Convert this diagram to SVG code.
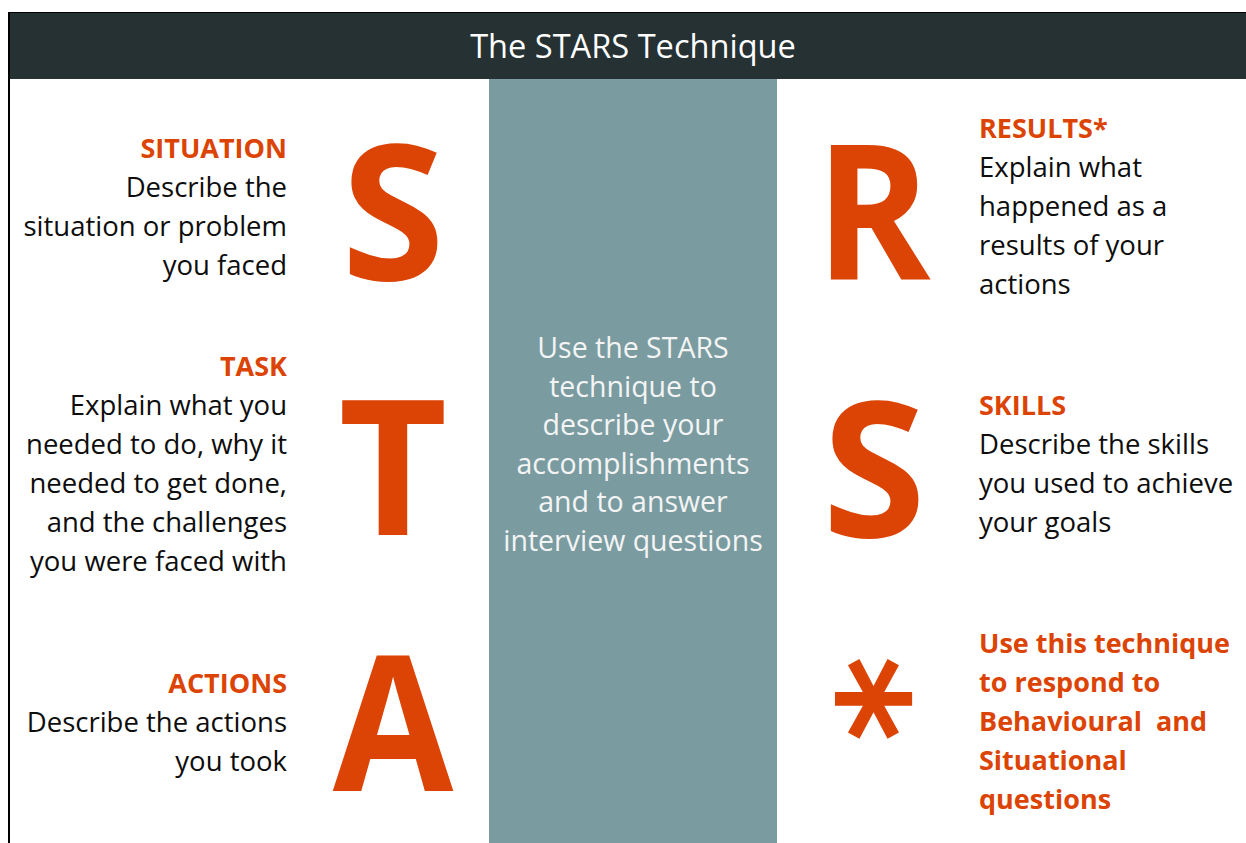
<svg xmlns="http://www.w3.org/2000/svg" width="1246" height="843" viewBox="0 0 1246 843">
  <style>
    .body { font-family: "Open Sans", Lato, sans-serif; font-size: 27.5px; fill: #0d0d0d; }
    .head { font-family: "Open Sans", Lato, sans-serif; font-size: 27px; font-weight: 700; fill: #dc4405; }
    .big { font-family: "Open Sans", sans-serif; font-size: 188px; font-weight: 700; fill: #dc4405; text-anchor: middle; }
    .mid { font-family: "Open Sans", Lato, sans-serif; font-size: 28.5px; fill: #f4f4f4; text-anchor: middle; }
    .r { text-anchor: end; }
  </style>

  <!-- page background -->
  <rect x="0" y="0" width="1246" height="843" fill="#ffffff"/>

  <!-- title bar -->
  <g id="title">
    <rect x="9" y="12" width="1237" height="67" fill="#253133"/>
    <line x1="8" y1="12.5" x2="1246" y2="12.5" stroke="#000" stroke-width="1"/>
    <text x="633" y="58" text-anchor="middle" font-family="'Open Sans', sans-serif" font-size="32.6" fill="#ffffff">The STARS Technique</text>
  </g>

  <!-- left frame edge -->
  <line x1="9" y1="12" x2="9" y2="843" stroke="#000" stroke-width="2"/>

  <!-- centre column -->
  <g id="centre">
    <rect x="489" y="79" width="288" height="764" fill="#7a9ca1"/>
    <text class="mid" x="633" y="358">Use the STARS</text>
    <text class="mid" x="633" y="397">technique to</text>
    <text class="mid" x="633" y="435">describe your</text>
    <text class="mid" x="633" y="474">accomplishments</text>
    <text class="mid" x="633" y="512">and to answer</text>
    <text class="mid" x="633" y="551">interview questions</text>
  </g>

  <!-- S : situation -->
  <g id="situation">
    <text class="head r" x="287" y="158">SITUATION</text>
    <text class="body r" x="287" y="197">Describe the</text>
    <text class="body r" x="287" y="236">situation or problem</text>
    <text class="body r" x="287" y="275">you faced</text>
    <text class="big" x="393" y="280">S</text>
  </g>

  <!-- T : task -->
  <g id="task">
    <text class="head r" x="287" y="376">TASK</text>
    <text class="body r" x="287" y="415">Explain what you</text>
    <text class="body r" x="287" y="454">needed to do, why it</text>
    <text class="body r" x="287" y="493">needed to get done,</text>
    <text class="body r" x="287" y="532">and the challenges</text>
    <text class="body r" x="287" y="571">you were faced with</text>
    <text class="big" x="393" y="535">T</text>
  </g>

  <!-- A : actions -->
  <g id="actions">
    <text class="head r" x="287" y="693">ACTIONS</text>
    <text class="body r" x="287" y="732">Describe the actions</text>
    <text class="body r" x="287" y="771">you took</text>
    <text class="big" transform="translate(393 791) scale(0.93 1)" x="0" y="0" font-size="183">A</text>
  </g>

  <!-- R : results -->
  <g id="results">
    <text class="big" transform="translate(873 280) scale(0.93 1)" x="0" y="0">R</text>
    <text class="head" x="979" y="138">RESULTS*</text>
    <text class="body" x="979" y="177">Explain what</text>
    <text class="body" x="979" y="216">happened as a</text>
    <text class="body" x="979" y="255">results of your</text>
    <text class="body" x="979" y="294">actions</text>
  </g>

  <!-- S : skills -->
  <g id="skills">
    <text class="big" x="874" y="537">S</text>
    <text class="head" x="979" y="415">SKILLS</text>
    <text class="body" x="979" y="454">Describe the skills</text>
    <text class="body" x="979" y="493">you used to achieve</text>
    <text class="body" x="979" y="532">your goals</text>
  </g>

  <!-- * : note -->
  <g id="note">
    <text transform="translate(887 699) rotate(90)" x="0" y="0" text-anchor="middle" dominant-baseline="central" font-family="'DejaVu Sans', sans-serif" font-weight="700" font-size="165" fill="#dc4405" dy="0.25em">*</text>
    <text class="head" x="979" y="653">Use this technique</text>
    <text class="head" x="979" y="692">to respond to</text>
    <text class="head" x="979" y="731" xml:space="preserve">Behavioural  and</text>
    <text class="head" x="979" y="770">Situational</text>
    <text class="head" x="979" y="809">questions</text>
  </g>
</svg>
